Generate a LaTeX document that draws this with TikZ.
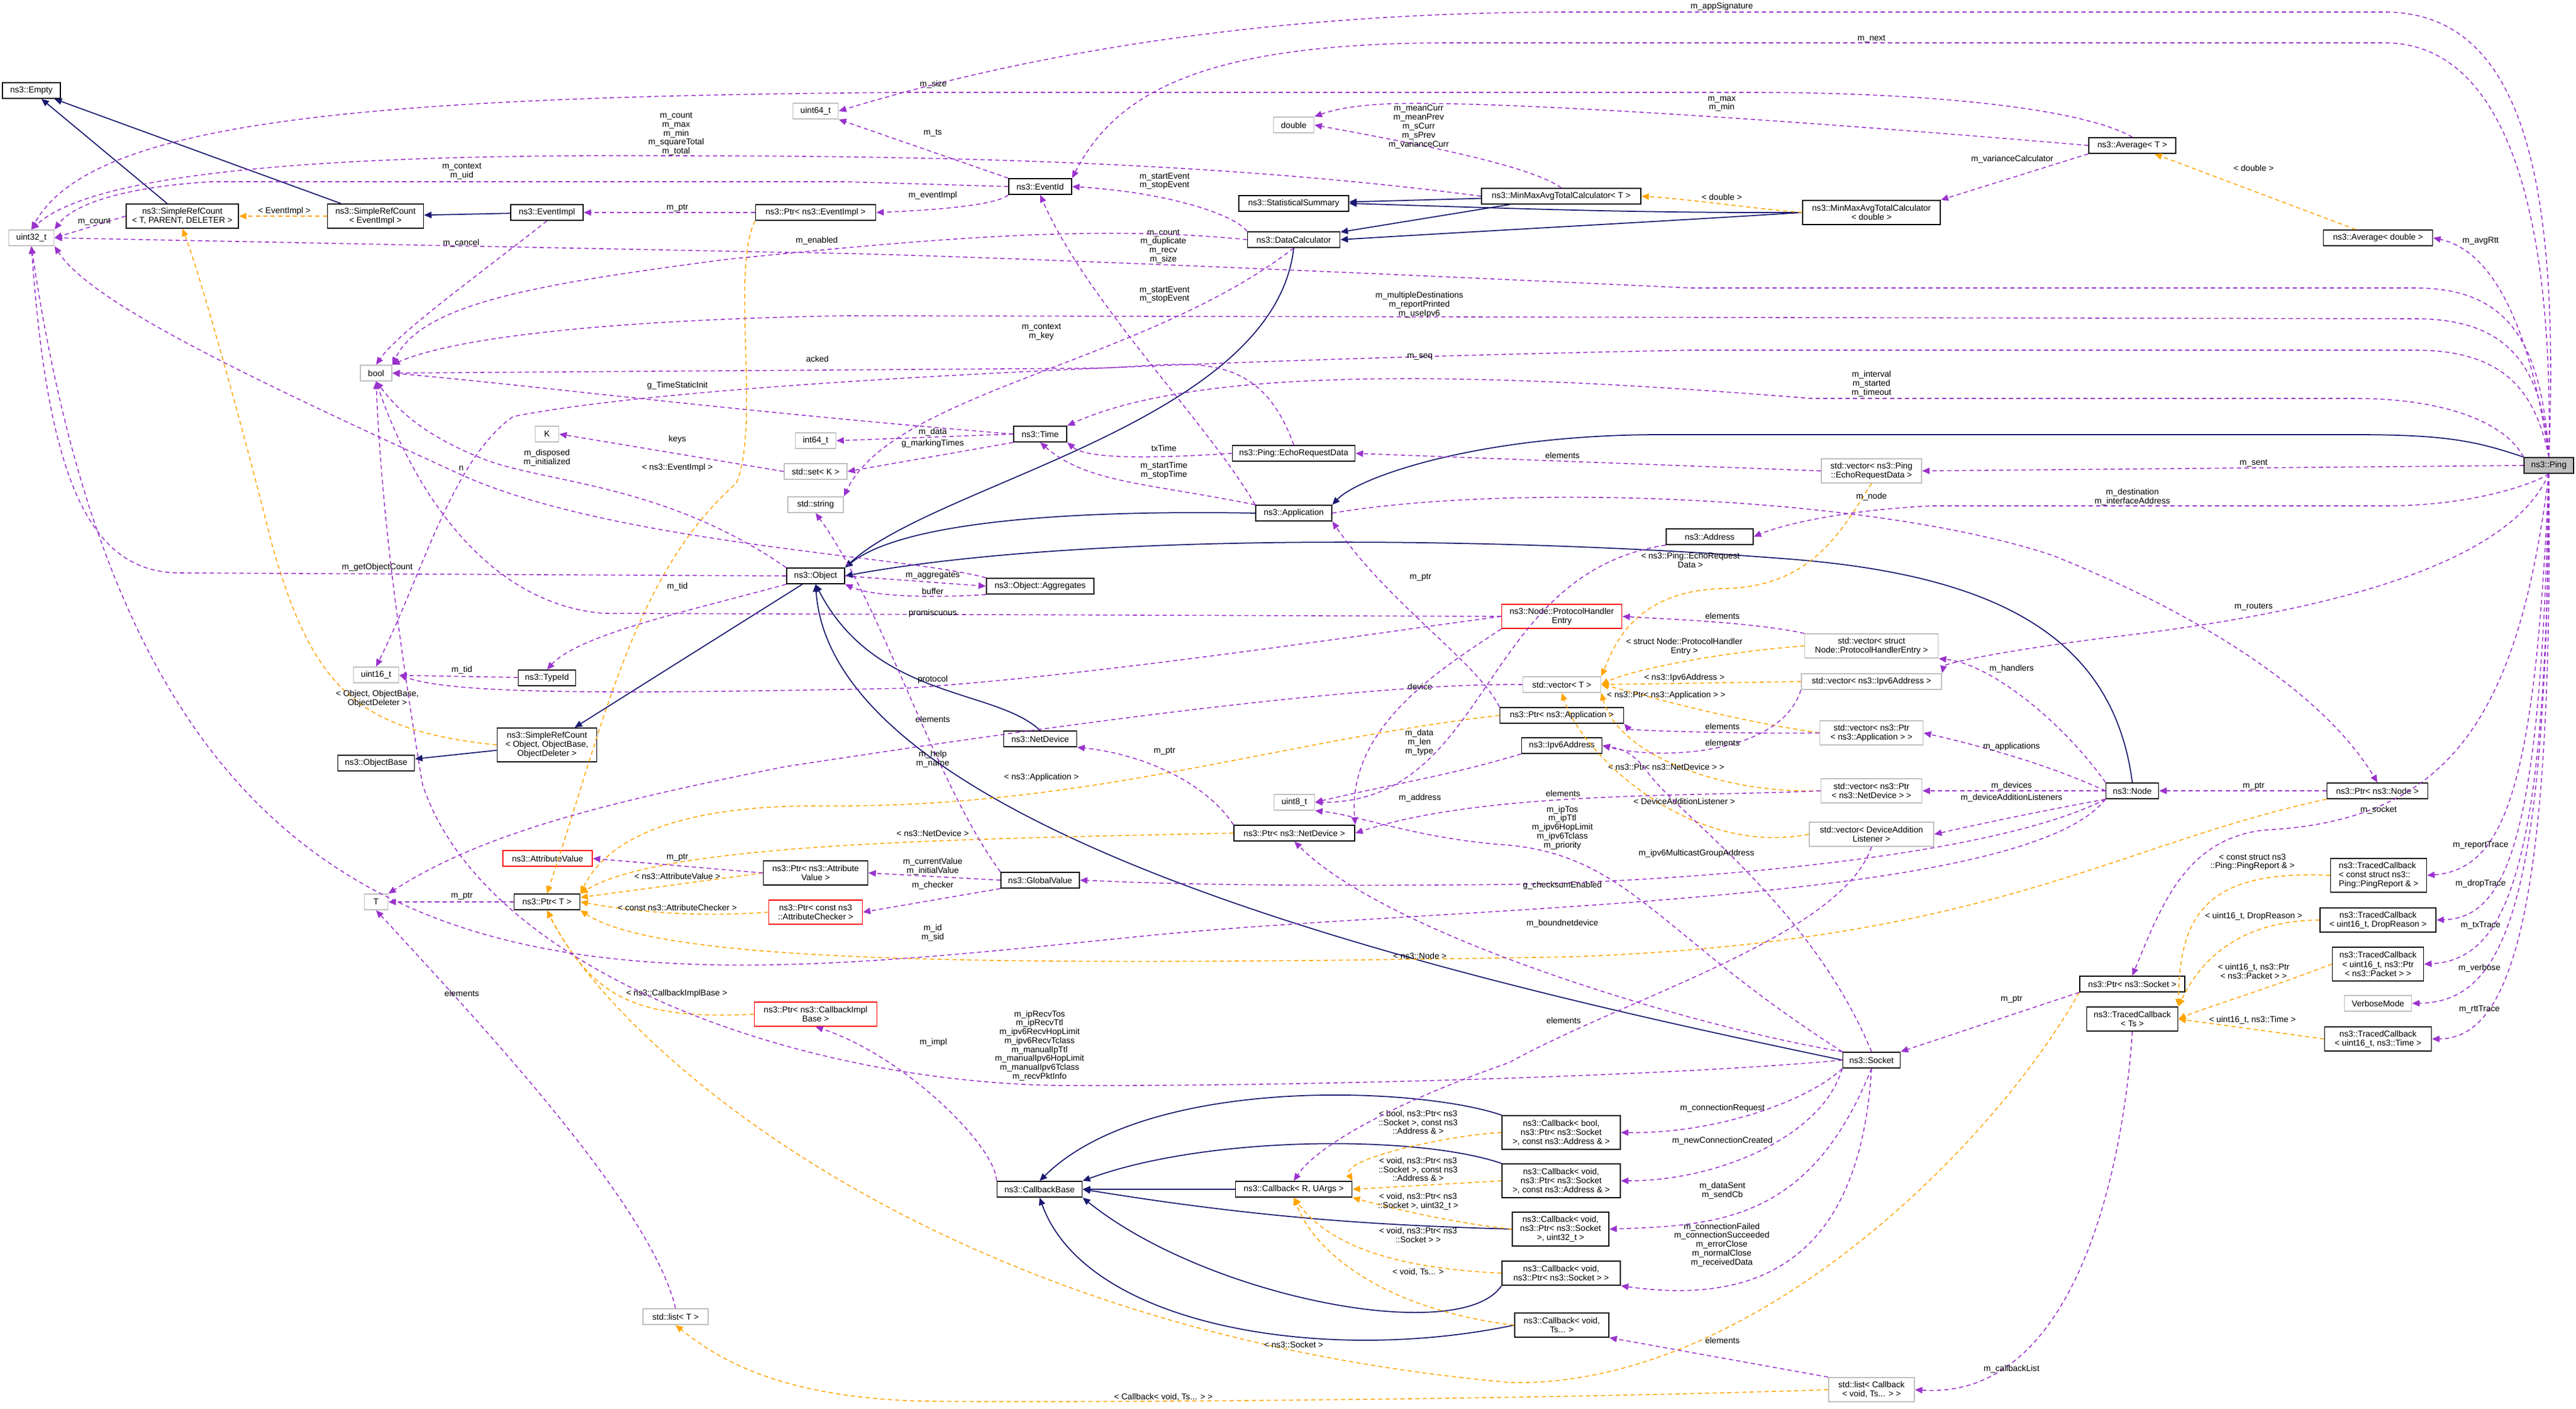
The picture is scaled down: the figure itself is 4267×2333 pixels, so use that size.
\documentclass[tikz,border=0pt]{standalone}
\usepackage{fontspec}
\setmainfont{Liberation Sans}
\usetikzlibrary{arrows.meta}
\definecolor{pu}{HTML}{9A32CD}
\definecolor{og}{HTML}{FFA500}
\definecolor{nb}{HTML}{191970}
\definecolor{gb}{HTML}{BFBFBF}
\tikzset{
 box/.style={draw=black,line width=0.5pt,fill=white,inner sep=0.5pt,align=center,font=\fontsize{4}{4.3}\selectfont},
 gbox/.style={box,draw=gb},
 rbox/.style={box,draw=red},
 ha/.style={minimum height=0.26cm},
 hb/.style={minimum height=0.40cm},
 hc/.style={minimum height=0.56cm},
 lab/.style={inner sep=0pt,align=center,font=\fontsize{4}{4.2}\selectfont},
 use/.style={draw=pu,line width=0.45pt,dash pattern=on 2pt off 1.5pt,-{Triangle[length=3.5pt,width=3pt]}},
 tpl/.style={draw=og,line width=0.45pt,dash pattern=on 2pt off 1.5pt,-{Triangle[length=3.5pt,width=3pt]}},
 inh/.style={draw=nb,line width=0.5pt,-{Triangle[length=3.5pt,width=3pt]}},
}
\begin{document}
\begin{tikzpicture}[x=0.01cm,y=-0.01cm]
\useasboundingbox[fill=white] (0,0) rectangle (4267,2333);
% nodes
\node[box,ha,minimum width=0.96cm] (empty) at (52,150) {ns3::Empty};
\node[gbox,ha,minimum width=0.75cm] (u32) at (52,394) {uint32\_t};
\node[box,hb,minimum width=1.86cm] (srcT) at (302,358) {ns3::SimpleRefCount\\< T, PARENT, DELETER >};
\node[box,hb,minimum width=1.59cm] (srcE) at (622,358) {ns3::SimpleRefCount\\< EventImpl >};
\node[box,ha,minimum width=1.20cm] (evimpl) at (906,352) {ns3::EventImpl};
\node[box,ha,minimum width=1.99cm] (ptrE) at (1351,352) {ns3::Ptr< ns3::EventImpl >};
\node[gbox,ha,minimum width=0.52cm] (bool) at (623,618) {bool};
\node[gbox,ha,minimum width=0.39cm] (K) at (906,719) {K};
\node[gbox,ha,minimum width=0.67cm] (i64) at (1351,730) {int64\_t};
\node[gbox,ha,minimum width=1.04cm] (setK) at (1351,781) {std::set< K >};
\node[gbox,ha,minimum width=0.75cm] (u64) at (1351,184) {uint64\_t};
\node[box,ha,minimum width=1.04cm] (evid) at (1723,309) {ns3::EventId};
\node[gbox,ha,minimum width=0.67cm] (double) at (2143,207) {double};
\node[box,ha,minimum width=1.82cm] (stat) at (2143,337) {ns3::StatisticalSummary};
\node[box,ha,minimum width=2.64cm] (mmT) at (2586,325) {ns3::MinMaxAvgTotalCalculator< T >};
\node[box,ha,minimum width=1.53cm] (dcalc) at (2143,397) {ns3::DataCalculator};
\node[box,ha,minimum width=0.88cm] (time) at (1723,719) {ns3::Time};
\node[box,ha,minimum width=2.03cm] (erd) at (2143,751) {ns3::Ping::EchoRequestData};
\node[box,ha,minimum width=1.44cm] (avgT) at (3532,241) {ns3::Average< T >};
\node[box,hb,minimum width=2.28cm] (mmD) at (3100,352) {ns3::MinMaxAvgTotalCalculator\\< double >};
\node[box,ha,minimum width=1.81cm] (avgD) at (3939,394) {ns3::Average< double >};
\node[box,ha,minimum width=0.82cm,fill=gb] (ping) at (4222,771) {ns3::Ping};
\node[gbox,hb,minimum width=1.66cm] (vERD) at (3100,780) {std::vector< ns3::Ping\\::EchoRequestData >};
\node[box,ha,minimum width=0.96cm] (obj) at (1351,954) {ns3::Object};
\node[gbox,ha,minimum width=0.75cm] (u16) at (623,1118) {uint16\_t};
\node[box,ha,minimum width=0.95cm] (typeid) at (906,1123) {ns3::TypeId};
\node[box,hc,minimum width=1.65cm] (srcO) at (906,1234) {ns3::SimpleRefCount\\< Object, ObjectBase,\\ ObjectDeleter >};
\node[box,ha,minimum width=1.27cm] (objbase) at (623,1264) {ns3::ObjectBase};
\node[rbox,ha,minimum width=1.48cm] (attrval) at (907,1422) {ns3::AttributeValue};
\node[gbox,ha,minimum width=0.39cm] (T) at (623,1494) {T};
\node[box,ha,minimum width=1.09cm] (ptrT) at (906,1494) {ns3::Ptr< T >};
\node[gbox,ha,minimum width=0.92cm] (string) at (1351,836) {std::string};
\node[box,ha,minimum width=1.78cm] (aggr) at (1723,971) {ns3::Object::Aggregates};
\node[box,ha,minimum width=1.26cm] (app) at (2143,850) {ns3::Application};
\node[rbox,hb,minimum width=1.99cm] (phe) at (2587,1021) {ns3::Node::ProtocolHandler\\Entry};
\node[gbox,ha,minimum width=1.29cm] (vT) at (2587,1134) {std::vector< T >};
\node[box,ha,minimum width=2.05cm] (ptrApp) at (2587,1185) {ns3::Ptr< ns3::Application >};
\node[box,ha,minimum width=1.33cm] (ipv6) at (2587,1235) {ns3::Ipv6Address};
\node[box,ha,minimum width=1.21cm] (netdev) at (1723,1224) {ns3::NetDevice};
\node[gbox,ha,minimum width=0.67cm] (u8) at (2144,1329) {uint8\_t};
\node[box,ha,minimum width=2.00cm] (ptrND) at (2144,1380) {ns3::Ptr< ns3::NetDevice >};
\node[box,hb,minimum width=1.73cm] (ptrAV) at (1351,1446) {ns3::Ptr< ns3::Attribute\\Value >};
\node[box,ha,minimum width=1.30cm] (gval) at (1723,1458) {ns3::GlobalValue};
\node[rbox,hb,minimum width=1.55cm] (ptrAC) at (1351,1511) {ns3::Ptr< const ns3\\::AttributeChecker >};
\node[box,ha,minimum width=1.44cm] (addr) at (2832,889) {ns3::Address};
\node[gbox,hb,minimum width=2.21cm] (vPHE) at (3100,1070) {std::vector< struct\\ Node::ProtocolHandlerEntry >};
\node[gbox,ha,minimum width=2.32cm] (vIP) at (3100,1129) {std::vector< ns3::Ipv6Address >};
\node[gbox,hb,minimum width=1.71cm] (vPA) at (3100,1214) {std::vector< ns3::Ptr\\< ns3::Application > >};
\node[gbox,hb,minimum width=1.67cm] (vPN) at (3100,1310) {std::vector< ns3::Ptr\\< ns3::NetDevice > >};
\node[gbox,hb,minimum width=2.06cm] (vDAL) at (3100,1382) {std::vector< DeviceAddition\\Listener >};
\node[box,ha,minimum width=0.87cm] (node) at (3532,1310) {ns3::Node};
\node[box,ha,minimum width=1.67cm] (ptrNode) at (3938,1310) {ns3::Ptr< ns3::Node >};
\node[box,hc,minimum width=1.59cm,align=left] (tcPR) at (3940,1450) {ns3::TracedCallback\\< const struct ns3::\\Ping::PingReport \& >};
\node[box,hb,minimum width=1.92cm] (tcDR) at (3939,1524) {ns3::TracedCallback\\< uint16\_t, DropReason >};
\node[box,ha,minimum width=1.74cm] (ptrSock) at (3532,1630) {ns3::Ptr< ns3::Socket >};
\node[box,hb,minimum width=1.51cm] (tcTs) at (3532,1688) {ns3::TracedCallback\\< Ts >};
\node[box,hc,minimum width=1.51cm] (tcPk) at (3939,1597) {ns3::TracedCallback\\< uint16\_t, ns3::Ptr\\< ns3::Packet > >};
\node[gbox,ha,minimum width=1.11cm] (verbose) at (3939,1662) {VerboseMode};
\node[box,hb,minimum width=1.77cm] (tcTime) at (3939,1721) {ns3::TracedCallback\\< uint16\_t, ns3::Time >};
\node[box,ha,minimum width=0.95cm] (socket) at (3100,1756) {ns3::Socket};
\node[gbox,hb,minimum width=1.42cm] (lCB) at (3100,2302) {std::list< Callback\\< void, Ts... > >};
\node[rbox,hb,minimum width=2.03cm] (ptrCIB) at (1351,1680) {ns3::Ptr< ns3::CallbackImpl\\Base >};
\node[box,ha,minimum width=1.41cm] (cbBase) at (1722,1970) {ns3::CallbackBase};
\node[box,ha,minimum width=1.93cm] (cbR) at (2143,1970) {ns3::Callback< R, UArgs >};
\node[box,hc,minimum width=1.96cm] (cb1) at (2586,1876) {ns3::Callback< bool,\\ ns3::Ptr< ns3::Socket\\ >, const ns3::Address \& >};
\node[box,hc,minimum width=1.96cm] (cb2) at (2586,1956) {ns3::Callback< void,\\ ns3::Ptr< ns3::Socket\\ >, const ns3::Address \& >};
\node[box,hc,minimum width=1.60cm] (cb3) at (2585,2036) {ns3::Callback< void,\\ ns3::Ptr< ns3::Socket\\ >, uint32\_t >};
\node[box,hb,minimum width=1.96cm] (cb4) at (2586,2109) {ns3::Callback< void,\\ ns3::Ptr< ns3::Socket > >};
\node[box,hb,minimum width=1.56cm] (cb5) at (2587,2195) {ns3::Callback< void,\\ Ts... >};
\node[gbox,ha,minimum width=1.08cm] (lT) at (1119,2181) {std::list< T >};

% inheritance
\draw[inh] (srcT) -- (empty);
\draw[inh] (srcE) -- (empty);
\draw[inh] (evimpl) -- (srcE);
\draw[inh] (mmT) -- (stat);
\draw[inh] (mmT) -- (dcalc);
\draw[inh] (mmD.west) .. controls (2700,353) and (2500,345) .. (stat.east);
\draw[inh] (mmD.west) .. controls (2700,370) and (2500,380) .. (dcalc.east);
\draw[inh] (dcalc.south) .. controls (2110,700) and (1550,800) .. (obj.north east);
\draw[inh] (app.west) .. controls (1800,845) and (1500,860) .. (obj.north east);
\draw[inh] (ping.north west) .. controls (4100,730) and (4050,720) .. (3900,720) -- (2750,720) .. controls (2450,720) and (2250,790) .. (app.north east);
\draw[inh] (node.north) .. controls (3500,1050) and (3300,950) .. (2950,925) .. controls (2500,890) and (1800,880) .. (obj.east);
\draw[inh] (netdev.north) .. controls (1650,1140) and (1450,1160) .. (obj.south);
\draw[inh] (socket.west) .. controls (2500,1640) and (1380,1400) .. (obj.south);
\draw[inh] (obj) -- (srcO);
\draw[inh] (srcO) -- (objbase);
\draw[inh] (cbR) -- (cbBase);
\draw[inh] (cb1.north west) .. controls (2350,1800) and (1900,1780) .. (cbBase.north);
\draw[inh] (cb2.north west) .. controls (2350,1880) and (2000,1880) .. (cbBase.north east);
\draw[inh] (cb3.west) .. controls (2300,2030) and (2100,2020) .. (cbBase.east);
\draw[inh] (cb4.south west) .. controls (2420,2230) and (2000,2150) .. (cbBase.south east);
\draw[inh] (cb5.west) .. controls (2200,2260) and (1800,2200) .. (cbBase.south);

% template instantiation
\draw[tpl] (srcE) -- (srcT);
\node[lab] (t1) at (471,350) {< EventImpl >};
\draw[tpl] (srcO.west) .. controls (600,1210) and (520,1150) .. (450,900) .. controls (400,700) and (330,450) .. (srcT.south);
\node[lab] (t2) at (625,1157) {< Object, ObjectBase,\\ObjectDeleter >};
\draw[tpl] (mmD.west) .. controls (2900,345) and (2800,330) .. (mmT.east);
\node[lab] (t3) at (2852,326) {< double >};
\draw[tpl] (avgD) -- (avgT);
\node[lab] (t4) at (3733,278) {< double >};
\draw[tpl] (ptrE.south west) .. controls (1210,450) and (1260,700) .. (1220,800) .. controls (1050,950) and (1000,1200) .. (ptrT.north);
\node[lab] (t5) at (1122,775) {< ns3::EventImpl >};
\draw[tpl] (ptrAV.west) -- (ptrT);
\node[lab] (t6) at (1122,1451) {< ns3::AttributeValue >};
\draw[tpl] (ptrAC.west) .. controls (1150,1520) and (1050,1510) .. (ptrT.east);
\node[lab] (t7) at (1122,1503) {< const ns3::AttributeChecker >};
\draw[tpl] (ptrCIB.west) .. controls (1050,1690) and (980,1650) .. (ptrT.south);
\node[lab] (t8) at (1121,1646) {< ns3::CallbackImplBase >};
\draw[tpl] (ptrApp.west) .. controls (2100,1230) and (1800,1340) .. (1350,1335) .. controls (1100,1335) and (1000,1400) .. (ptrT.north east);
\node[lab] (t9) at (1725,1288) {< ns3::Application >};
\draw[tpl] (ptrND.west) .. controls (1600,1390) and (1100,1395) .. (ptrT.north east);
\node[lab] (t10) at (1545,1380) {< ns3::NetDevice >};
\draw[tpl] (ptrNode.south west) .. controls (3500,1400) and (3300,1560) .. (2600,1585) .. controls (1700,1600) and (1100,1600) .. (ptrT.south east);
\node[lab] (t11) at (2352,1583) {< ns3::Node >};
\draw[tpl] (ptrSock.south west) .. controls (3300,1900) and (2900,2300) .. (2500,2290) .. controls (1500,2200) and (1000,1700) .. (ptrT.south);
\node[lab] (t12) at (2143,2227) {< ns3::Socket >};
\draw[tpl] (vERD.south) .. controls (3050,880) and (3000,975) .. (2850,975) .. controls (2700,980) and (2670,1080) .. (vT.north east);
\node[lab] (t13) at (2800,928) {< ns3::Ping::EchoRequest\\Data >};
\draw[tpl] (vPHE.west) .. controls (2850,1080) and (2700,1110) .. (vT.east);
\node[lab] (t14) at (2790,1071) {< struct Node::ProtocolHandler\\Entry >};
\draw[tpl] (vIP.west) -- (vT.east);
\node[lab] (t15) at (2790,1123) {< ns3::Ipv6Address >};
\draw[tpl] (vPA.west) .. controls (2850,1190) and (2720,1150) .. (vT.east);
\node[lab] (t16) at (2760,1152) {< ns3::Ptr< ns3::Application > >};
\draw[tpl] (vPN.west) .. controls (2850,1315) and (2680,1250) .. (vT.south east);
\node[lab] (t17) at (2760,1270) {< ns3::Ptr< ns3::NetDevice > >};
\draw[tpl] (vDAL.west) .. controls (2800,1420) and (2620,1250) .. (vT.south);
\node[lab] (t18) at (2790,1327) {< DeviceAdditionListener >};
\draw[tpl] (cb1.west) .. controls (2400,1880) and (2220,1920) .. (cbR.north east);
\node[lab] (t19) at (2349,1859) {< bool, ns3::Ptr< ns3\\::Socket >, const ns3\\::Address \& >};
\draw[tpl] (cb2.west) -- (cbR.east);
\node[lab] (t20) at (2349,1937) {< void, ns3::Ptr< ns3\\::Socket >, const ns3\\::Address \& >};
\draw[tpl] (cb3.west) .. controls (2400,2025) and (2300,2000) .. (cbR.south east);
\node[lab] (t21) at (2349,1990) {< void, ns3::Ptr< ns3\\::Socket >, uint32\_t >};
\draw[tpl] (cb4.west) .. controls (2300,2100) and (2200,2060) .. (cbR.south);
\node[lab] (t22) at (2349,2046) {< void, ns3::Ptr< ns3\\::Socket > >};
\draw[tpl] (cb5.west) .. controls (2300,2170) and (2180,2080) .. (cbR.south);
\node[lab] (t23) at (2349,2107) {< void, Ts... >};
\draw[tpl] (tcPR.west) .. controls (3650,1440) and (3610,1520) .. (tcTs.north east);
\node[lab] (t24) at (3731,1428) {< const struct ns3\\::Ping::PingReport \& >};
\draw[tpl] (tcDR.west) .. controls (3700,1525) and (3640,1600) .. (tcTs.north east);
\node[lab] (t25) at (3733,1518) {< uint16\_t, DropReason >};
\draw[tpl] (tcPk.west) .. controls (3750,1640) and (3650,1670) .. (tcTs.east);
\node[lab] (t26) at (3733,1609) {< uint16\_t, ns3::Ptr\\< ns3::Packet > >};
\draw[tpl] (tcTime.west) -- (tcTs.east);
\node[lab] (t27) at (3731,1690) {< uint16\_t, ns3::Time >};
\draw[tpl] (lCB.west) .. controls (2500,2320) and (1600,2325) .. (1500,2320) .. controls (1300,2310) and (1200,2260) .. (lT.south);
\node[lab] (t28) at (1927,2314) {< Callback< void, Ts... > >};

% usage
\draw[use] (ping.north) .. controls (4240,300) and (4180,20) .. (3950,20) -- (2600,20) .. controls (2000,20) and (1600,120) .. (u64.east);
\node[lab] (L1) at (2852,11) {m\_appSignature};
\draw[use] (ping.north) .. controls (4230,350) and (4150,71) .. (3950,71) -- (2400,71) .. controls (2000,71) and (1850,150) .. (evid.north east);
\node[lab] (L2) at (3100,64) {m\_next};
\draw[use] (avgT.north) .. controls (3450,180) and (3200,153) .. (2900,153) -- (1500,153) .. controls (600,160) and (150,200) .. (u32.north);
\node[lab] (L3) at (1546,140) {m\_size};
\draw[use] (avgT.west) .. controls (3100,210) and (2500,165) .. (2300,172) .. controls (2230,175) and (2200,185) .. (double.north east);
\node[lab] (L4) at (2852,172) {m\_max\\m\_min};
\draw[use] (avgT.south west) -- (mmD.north east);
\node[lab] (L5) at (3333,264) {m\_varianceCalculator};
\draw[use] (mmT.north) .. controls (2530,270) and (2300,230) .. (double.east);
\node[lab] (L6) at (2350,210) {m\_meanCurr\\m\_meanPrev\\m\_sCurr\\m\_sPrev\\m\_varianceCurr};
\draw[use] (mmT.west) .. controls (2000,265) and (1500,258) .. (1100,258) .. controls (500,255) and (150,290) .. (u32.north);
\node[lab] (L7) at (1120,222) {m\_count\\m\_max\\m\_min\\m\_squareTotal\\m\_total};
\draw[use] (evid.west) -- (1400,301) -- (350,301) .. controls (200,310) and (120,340) .. (u32.north east);
\node[lab] (L8) at (765,284) {m\_context\\m\_uid};
\draw[use] (evid.north west) -- (u64.south east);
\node[lab] (L9) at (1545,220) {m\_ts};
\draw[use] (evid.south west) .. controls (1650,340) and (1550,348) .. (ptrE.east);
\node[lab] (L10) at (1545,324) {m\_eventImpl};
\draw[use] (ptrE) -- (evimpl);
\node[lab] (L11) at (1122,344) {m\_ptr};
\draw[use] (srcT.west) -- (u32.east);
\node[lab] (L12) at (156,367) {m\_count};
\draw[use] (evimpl.south) .. controls (800,450) and (660,550) .. (bool.north);
\node[lab] (L13) at (764,403) {m\_cancel};
\draw[use] (ping.north) .. controls (4210,560) and (4150,477) .. (4000,477) -- (2800,477) .. controls (2000,440) and (1500,420) .. (1300,418) -- (u32.east);
\node[lab] (L14) at (1927,408) {m\_count\\m\_duplicate\\m\_recv\\m\_size};
\draw[use] (dcalc.north west) .. controls (2050,360) and (1950,320) .. (evid.east);
\node[lab] (L15) at (1929,300) {m\_startEvent\\m\_stopEvent};
\draw[use] (dcalc.west) .. controls (1800,370) and (1500,400) .. (1200,430) .. controls (900,470) and (700,500) .. (bool.north east);
\node[lab] (L16) at (1353,399) {m\_enabled};
\draw[use] (dcalc.south) .. controls (1900,600) and (1480,650) .. (string.north east);
\node[lab] (L17) at (1725,550) {m\_context\\m\_key};
\draw[use] (app.north west) .. controls (2000,700) and (1800,500) .. (evid.south);
\node[lab] (L18) at (1929,488) {m\_startEvent\\m\_stopEvent};
\draw[use] (ping.north) .. controls (4210,600) and (4150,528) .. (4000,528) -- (1400,523) .. controls (1000,530) and (750,560) .. (bool.north east);
\node[lab] (L19) at (2351,505) {m\_multipleDestinations\\m\_reportPrinted\\m\_useIpv6};
\draw[use] (erd.north) .. controls (2080,560) and (1950,610) .. (1800,610) -- (bool.east);
\node[lab] (L20) at (1354,594) {acked};
\draw[use] (ping.north) .. controls (4200,650) and (4150,580) .. (4000,580) -- (2800,580) .. controls (1800,600) and (1100,640) .. (850,690) .. controls (750,760) and (700,950) .. (u16.north);
\node[lab] (L21) at (2352,591) {m\_seq};
\draw[use] (ping.north west) .. controls (4150,700) and (4050,660) .. (3900,660) -- (3000,660) .. controls (2500,620) and (2000,600) .. (time.north east);
\node[lab] (L22) at (3100,636) {m\_interval\\m\_started\\m\_timeout};
\draw[use] (ping.west) -- (vERD.east);
\node[lab] (L23) at (3733,767) {m\_sent};
\draw[use] (ping.north) .. controls (4200,600) and (4150,420) .. (avgD.east);
\node[lab] (L24) at (4109,399) {m\_avgRtt};
\draw[use] (vERD.west) -- (erd.east);
\node[lab] (L25) at (2588,754) {elements};
\draw[use] (erd.west) .. controls (1900,760) and (1800,760) .. (time.south east);
\node[lab] (L26) at (1928,742) {txTime};
\draw[use] (app.north west) .. controls (1900,800) and (1800,800) .. (time.south);
\node[lab] (L27) at (1928,779) {m\_startTime\\m\_stopTime};
\draw[use] (time.west) .. controls (1200,680) and (900,640) .. (bool.east);
\node[lab] (L28) at (1122,639) {g\_TimeStaticInit};
\draw[use] (time.west) -- (i64.east);
\node[lab] (L29) at (1545,716) {m\_data};
\draw[use] (time.south west) -- (setK.east);
\node[lab] (L30) at (1545,735) {g\_markingTimes};
\draw[use] (setK.west) -- (K.east);
\node[lab] (L31) at (1122,728) {keys};
\draw[use] (obj.north west) .. controls (1100,800) and (900,800) .. (800,760) .. controls (700,720) and (660,680) .. (bool.south);
\node[lab] (L32) at (906,758) {m\_disposed\\m\_initialized};
\draw[use] (aggr.north west) .. controls (1500,920) and (1000,900) .. (750,780) .. controls (400,620) and (150,500) .. (u32.south east);
\node[lab] (L33) at (764,776) {n};
\draw[use] (obj.west) -- (300,949) .. controls (150,950) and (80,800) .. (u32.south);
\node[lab] (L34) at (625,940) {m\_getObjectCount};
\draw[use] (obj.south west) .. controls (1150,1010) and (960,1050) .. (typeid.north);
\node[lab] (L35) at (1122,972) {m\_tid};
\draw[use] (typeid) -- (u16);
\node[lab] (L36) at (765,1110) {m\_tid};
\draw[use] (obj.east) -- (aggr.west);
\node[lab] (L37) at (1545,953) {m\_aggregates};
\draw[use] (aggr.south west) .. controls (1560,990) and (1450,990) .. (obj.south east);
\node[lab] (L38) at (1545,979) {buffer};
\draw[use] (phe.west) -- (1000,1016) .. controls (800,1000) and (680,800) .. (bool.south);
\node[lab] (L39) at (1545,1016) {promiscuous};
\draw[use] (phe.west) .. controls (2200,1060) and (1800,1120) .. (1500,1140) .. controls (1000,1150) and (750,1150) .. (u16.east);
\node[lab] (L40) at (1545,1126) {protocol};
\draw[use] (phe.south west) .. controls (2400,1100) and (2230,1200) .. (ptrND.north east);
\node[lab] (L41) at (2352,1137) {device};
\draw[use] (vT.west) .. controls (2200,1130) and (1500,1240) .. (1300,1270) .. controls (1000,1330) and (800,1380) .. (T.north east);
\node[lab] (L42) at (1545,1191) {elements};
\draw[use] (ptrApp.north west) .. controls (2450,1100) and (2300,1000) .. (app.south east);
\node[lab] (L43) at (2353,956) {m\_ptr};
\draw[use] (ipv6.south west) .. controls (2400,1285) and (2300,1300) .. (u8.east);
\node[lab] (L44) at (2352,1322) {m\_address};
\draw[use] (addr.south west) .. controls (2450,950) and (2470,1330) .. (u8.east);
\node[lab] (L45) at (2351,1230) {m\_data\\m\_len\\m\_type};
\draw[use] (socket.north west) .. controls (2750,1550) and (2700,1420) .. (2500,1400) .. controls (2350,1390) and (2250,1350) .. (u8.south east);
\node[lab] (L46) at (2588,1371) {m\_ipTos\\m\_ipTtl\\m\_ipv6HopLimit\\m\_ipv6Tclass\\m\_priority};
\draw[use] (socket.north west) .. controls (2800,1700) and (2300,1550) .. (ptrND.south);
\node[lab] (L47) at (2588,1530) {m\_boundnetdevice};
\draw[use] (socket.north) .. controls (3000,1500) and (2780,1350) .. (2730,1280) .. controls (2700,1240) and (2680,1240) .. (ipv6.east);
\node[lab] (L48) at (2810,1414) {m\_ipv6MulticastGroupAddress};
\draw[use] (socket.west) .. controls (2800,1780) and (2200,1800) .. (1750,1798) .. controls (1300,1790) and (800,1600) .. (700,1300) .. controls (650,1000) and (630,800) .. (bool.south);
\node[lab] (L49) at (1722,1732) {m\_ipRecvTos\\m\_ipRecvTtl\\m\_ipv6RecvHopLimit\\m\_ipv6RecvTclass\\m\_manualIpTtl\\m\_manualIpv6HopLimit\\m\_manualIpv6Tclass\\m\_recvPktInfo};
\draw[use] (socket.south west) .. controls (3000,1820) and (2850,1878) .. (cb1.east);
\node[lab] (L50) at (2853,1836) {m\_connectionRequest};
\draw[use] (socket.south west) .. controls (3020,1880) and (2850,1956) .. (cb2.east);
\node[lab] (L51) at (2853,1890) {m\_newConnectionCreated};
\draw[use] (socket.south) .. controls (3000,2020) and (2850,2030) .. (cb3.east);
\node[lab] (L52) at (2853,1972) {m\_dataSent\\m\_sendCb};
\draw[use] (socket.south) .. controls (3080,2100) and (2900,2160) .. (cb4.south east);
\node[lab] (L53) at (2852,2062) {m\_connectionFailed\\m\_connectionSucceeded\\m\_errorClose\\m\_normalClose\\m\_receivedData};
\draw[use] (ptrSock.south west) -- (socket.north east);
\node[lab] (L54) at (3332,1655) {m\_ptr};
\draw[use] (ping.south) .. controls (4200,800) and (4100,838) .. (3950,838) -- (3200,838) .. controls (3050,845) and (2950,870) .. (addr.east);
\node[lab] (L55) at (3532,823) {m\_destination\\m\_interfaceAddress};
\draw[use] (ping.south) .. controls (4150,950) and (3800,1020) .. (3500,1055) .. controls (3300,1080) and (3220,1100) .. (vIP.north east);
\node[lab] (L56) at (3733,1005) {m\_routers};
\draw[use] (ping.south) .. controls (4170,1200) and (4050,1360) .. (3750,1375) .. controls (3620,1390) and (3580,1500) .. (ptrSock.north);
\node[lab] (L57) at (3940,1342) {m\_socket};
\draw[use] (ping.south) .. controls (4200,1300) and (4150,1440) .. (tcPR.east);
\node[lab] (L58) at (4109,1400) {m\_reportTrace};
\draw[use] (ping.south) .. controls (4210,1400) and (4150,1520) .. (tcDR.east);
\node[lab] (L59) at (4109,1464) {m\_dropTrace};
\draw[use] (ping.south) .. controls (4220,1450) and (4150,1590) .. (tcPk.east);
\node[lab] (L60) at (4109,1533) {m\_txTrace};
\draw[use] (ping.south) .. controls (4220,1500) and (4150,1660) .. (verbose.east);
\node[lab] (L61) at (4107,1604) {m\_verbose};
\draw[use] (ping.south) .. controls (4230,1550) and (4150,1720) .. (tcTime.east);
\node[lab] (L62) at (4107,1672) {m\_rttTrace};
\draw[use] (app.east) .. controls (2500,800) and (3100,820) .. (3400,920) .. controls (3650,1020) and (3850,1150) .. (ptrNode.north);
\node[lab] (L63) at (3100,823) {m\_node};
\draw[use] (ptrNode) -- (node);
\node[lab] (L64) at (3733,1302) {m\_ptr};
\draw[use] (node.north west) .. controls (3420,1200) and (3300,1100) .. (vPHE.south east);
\node[lab] (L65) at (3332,1108) {m\_handlers};
\draw[use] (node.west) .. controls (3400,1270) and (3300,1240) .. (vPA.east);
\node[lab] (L66) at (3332,1237) {m\_applications};
\draw[use] (node) -- (vPN);
\node[lab] (L67) at (3332,1302) {m\_devices};
\draw[use] (node.south west) .. controls (3400,1340) and (3300,1360) .. (vDAL.east);
\node[lab] (L68) at (3332,1322) {m\_deviceAdditionListeners};
\draw[use] (node.south west) .. controls (3300,1420) and (2800,1460) .. (2500,1465) .. controls (2000,1470) and (1850,1460) .. (gval.east);
\node[lab] (L69) at (2588,1467) {g\_checksumEnabled};
\draw[use] (node.south west) .. controls (3350,1500) and (2400,1500) .. (1900,1550) .. controls (1000,1640) and (250,1750) .. (u32.south);
\node[lab] (L70) at (1545,1545) {m\_id\\m\_sid};
\draw[use] (vPHE.north west) .. controls (2900,1030) and (2750,1025) .. (phe.east);
\node[lab] (L71) at (2853,1020) {elements};
\draw[use] (vPA.west) .. controls (2900,1216) and (2700,1210) .. (ptrApp.south east);
\node[lab] (L72) at (2853,1203) {elements};
\draw[use] (vIP.south west) .. controls (2950,1250) and (2750,1260) .. (ipv6.east);
\node[lab] (L73) at (2853,1230) {elements};
\draw[use] (vPN.west) .. controls (2800,1320) and (2460,1310) .. (ptrND.east);
\node[lab] (L74) at (2589,1314) {elements};
\draw[use] (vDAL.south) .. controls (3050,1550) and (2700,1650) .. (2500,1760) .. controls (2300,1830) and (2180,1900) .. (cbR.north);
\node[lab] (L75) at (2590,1690) {elements};
\draw[use] (lT.north) .. controls (1080,2000) and (800,1700) .. (T.south);
\node[lab] (L76) at (765,1645) {elements};
\draw[use] (lCB.north west) -- (cb5.south east);
\node[lab] (L77) at (2853,2220) {elements};
\draw[use] (tcTs.south) .. controls (3520,1900) and (3450,2320) .. (lCB.east);
\node[lab] (L78) at (3332,2268) {m\_callbackList};
\draw[use] (cbBase.north west) .. controls (1650,1900) and (1500,1750) .. (ptrCIB.south);
\node[lab] (L79) at (1546,1727) {m\_impl};
\draw[use] (ptrT) -- (T);
\node[lab] (L80) at (765,1484) {m\_ptr};
\draw[use] (ptrAV.west) -- (attrval.east);
\node[lab] (L81) at (1122,1420) {m\_ptr};
\draw[use] (gval.north west) .. controls (1550,1300) and (1460,1000) .. (string.south);
\node[lab] (L82) at (1545,1257) {m\_help\\m\_name};
\draw[use] (gval.west) -- (ptrAV.east);
\node[lab] (L83) at (1545,1435) {m\_currentValue\\m\_initialValue};
\draw[use] (gval.south west) -- (ptrAC.east);
\node[lab] (L84) at (1545,1467) {m\_checker};
\draw[use] (ptrND.north west) .. controls (2000,1300) and (1900,1250) .. (netdev.south east);
\node[lab] (L85) at (1929,1244) {m\_ptr};
\end{tikzpicture}
\end{document}
